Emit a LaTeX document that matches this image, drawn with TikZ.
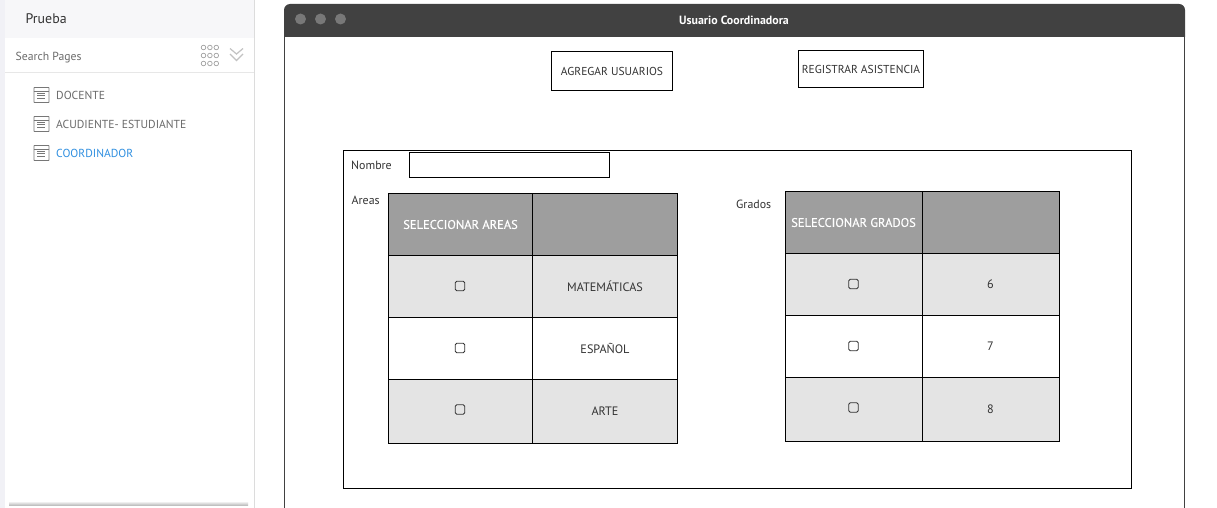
\documentclass[tikz,border=0pt]{standalone}
\usepackage{fontspec}
\setmainfont{PT Sans}
\usetikzlibrary{positioning}
\definecolor{bar}{HTML}{414141}
\definecolor{hdr}{HTML}{9E9E9E}
\definecolor{rowg}{HTML}{E4E4E4}
\definecolor{side}{HTML}{F7F7F9}
\definecolor{stripe}{HTML}{F1F1F6}
\definecolor{bord}{HTML}{DCDCDC}
\definecolor{txt}{HTML}{333333}
\definecolor{link}{HTML}{2F8FE0}
\definecolor{icon}{HTML}{777777}
\definecolor{grayt}{HTML}{6A6A6A}
\tikzset{
  x=1pt,y=-1pt,
  cell/.style={draw=black,line width=.9pt,minimum width=#1,inner sep=0pt,text=txt,font=\fontsize{12.2}{14}\selectfont},
  lab/.style={inner sep=0pt,anchor=west,text=txt,font=\fontsize{11.9}{13}\selectfont},
  page/.style={inner sep=0pt,anchor=west,text=grayt,font=\fontsize{11.6}{13}\selectfont},
  btn/.style={draw=black,line width=.9pt,inner sep=0pt,text=txt,font=\fontsize{11.5}{13}\selectfont},
  box/.style={draw=black,line width=.9pt,inner sep=0pt},
  chk/.style={draw=txt,line width=.8pt,rounded corners=1.5pt,minimum width=9.5pt,minimum height=9.5pt,inner sep=0pt},
  dot/.style={circle,fill=#1,minimum size=11pt,inner sep=0pt},
  ring/.style={circle,draw=icon!70,line width=.7pt,minimum size=4.6pt,inner sep=0pt},
  thead/.style={inner sep=0pt,text=white,font=\fontsize{12.5}{14}\selectfont\addfontfeature{FakeBold=0.35}},
}
\newcommand{\pageicon}[2]{%
  \node[draw=icon,line width=.8pt,rounded corners=.5pt,minimum width=15pt,minimum height=15pt,inner sep=0pt] (#1) at (41.5,#2) {};
  \draw[icon,line width=.8pt] ([yshift=-4pt]#1.north west) -- ([yshift=-4pt]#1.north east);
  \foreach \d in {6.5,8.7,10.9}{\draw[icon,line width=.7pt] ([xshift=3.5pt,yshift=-\d pt]#1.north west) -- ([xshift=11.5pt,yshift=-\d pt]#1.north west);}
}
\begin{document}
\begin{tikzpicture}
\useasboundingbox (0,0) rectangle (1217,508);
\fill[white] (0,0) rectangle (1217,508);
% sidebar
\fill[stripe] (0,0) rectangle (5,508);
\fill[side] (5,0) rectangle (254,38);
\draw[bord,line width=1pt] (254.5,0) -- (254.5,508);
\draw[bord!70,line width=.8pt] (5,72.5) -- (254,72.5);
\node[inner sep=0pt,anchor=west,text=txt,font=\fontsize{13.9}{15}\selectfont] (prueba) at (25.5,19) {Prueba};
\node[inner sep=0pt,anchor=west,text=grayt,font=\fontsize{11.7}{14}\selectfont] (search) at (15.5,57.5) {Search Pages};
\foreach \r in {0,1,2}\foreach \c in {0,1,2}{\node[ring] (r\r\c) at (203.5+\c*6.4,47.5+\r*8) {};}
\draw[icon!45,line width=1.2pt] (230,48.5) -- (236.5,54) -- (243,48.5);
\draw[icon!45,line width=1.2pt] (230,54) -- (236.5,60.5) -- (243,54);
\pageicon{ia}{95}
\pageicon{ib}{124}
\pageicon{ic}{153}
\node[page] (pa) at (56,95.3) {DOCENTE};
\node[page] (pb) at (56,124.3) {ACUDIENTE- ESTUDIANTE};
\node[page,text=link] (pc) at (56,153.3) {COORDINADOR};
\shade[top color=white,bottom color=black!28] (9,501) rectangle (248,505.5);
% window
\draw[bar,line width=1pt] (284.5,37) -- (284.5,508);
\draw[bar,line width=1pt] (1184.5,37) -- (1184.5,508);
\fill[bar] (284,37) -- (284,10) arc[start angle=180,end angle=90,x radius=6,y radius=-6] -- (1179,4) arc[start angle=90,end angle=0,x radius=6,y radius=-6] -- (1185,37) -- cycle;
\node[dot=black!55!bar!60!white] (d1) at (300.5,19) {};
\node[dot=black!55!bar!60!white] (d2) at (320.5,19) {};
\node[dot=black!55!bar!60!white] (d3) at (340.5,19) {};
\node[inner sep=0pt,text=white,font=\fontsize{11.9}{13}\selectfont\bfseries] (title) at (734,20) {Usuario Coordinadora};
% buttons
\node[btn,minimum width=121pt,minimum height=39pt] (b1) at (612,71) {AGREGAR USUARIOS};
\node[btn,minimum width=125pt,minimum height=37pt] (b2) at (861,69) {REGISTRAR ASISTENCIA};
% form
\node[box,anchor=north west,minimum width=788pt,minimum height=338pt] (form) at (343,150) {};
\node[lab] (lnom) at (351,165.5) {Nombre};
\node[box,anchor=north west,minimum width=200pt,minimum height=25pt] (inom) at (408.5,151.5) {};
\node[lab] (lar) at (351.5,200.5) {Areas};
\node[lab] (lgr) at (736,204.5) {Grados};
% table areas
\foreach \n/\y/\h/\c/\b in {h/224.5/62/hdr/,m/286.5/62/rowg/MATEMÁTICAS,e/348.5/62/white/ESPAÑOL,r/411.5/64/rowg/ARTE}{
  \node[cell=144.5pt,minimum height=\h pt,fill=\c] (a\n1) at (460.5,\y) {};
  \node[cell=145pt,minimum height=\h pt,fill=\c] (a\n2) at (605,\y) {\b};
}
\node[thead] (ath) at (ah1) {SELECCIONAR AREAS};
\node[chk] (c1) at (460,286) {};
\node[chk] (c2) at (460,348) {};
\node[chk] (c3) at (460,409.5) {};
% table grados
\foreach \n/\y/\h/\c/\b in {h/222.5/62/hdr/,m/284.5/62/rowg/6,e/346.5/62/white/7,r/409.5/64/rowg/8}{
  \node[cell=137pt,minimum height=\h pt,fill=\c] (g\n1) at (853.5,\y) {};
  \node[cell=137pt,minimum height=\h pt,fill=\c] (g\n2) at (990.5,\y) {\b};
}
\node[thead] (gth) at (gh1) {SELECCIONAR GRADOS};
\node[chk] (c4) at (853.5,284) {};
\node[chk] (c5) at (853.5,346) {};
\node[chk] (c6) at (853.5,407.5) {};
\end{tikzpicture}
\end{document}
